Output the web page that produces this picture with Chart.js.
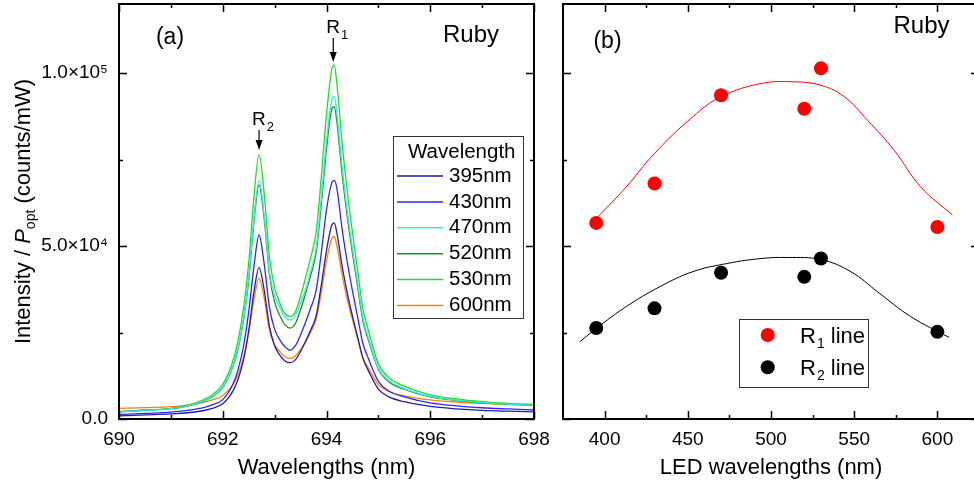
<!DOCTYPE html>
<html>
<head>
<meta charset="utf-8">
<script src="https://cdn.jsdelivr.net/npm/chart.js@4.4.0/dist/chart.umd.min.js"></script>
<style>
  html, body { margin: 0; padding: 0; background: #fff; overflow: hidden; }
  #wrap { position: relative; width: 974px; height: 485px; overflow: hidden; }
  #left { position: absolute; left: 0; top: 0; }
  #right { position: absolute; left: 545px; top: 0; }
</style>
</head>
<body>
<div id="wrap">
  <canvas id="left" width="560" height="485"></canvas>
  <canvas id="right" width="435" height="485"></canvas>
</div>
<script>
// ---- (a) spectra, intensity / P_opt vs wavelength ----
const wavelengths = [690, 690.5, 691, 691.5, 691.8, 692, 692.2, 692.3, 692.4, 692.5,
  692.6, 692.7, 692.8, 692.9, 693, 693.1, 693.2, 693.3, 693.4, 693.5,
  693.6, 693.7, 693.8, 693.9, 694, 694.1, 694.15, 694.2, 694.3, 694.4,
  694.5, 694.6, 694.7, 694.8, 695, 695.2, 695.5, 696, 696.5, 697, 697.5, 698];

const spec395 = [900, 1190, 1470, 2100, 3100, 4400, 8200, 11700, 17000, 25500,
  36600, 43800, 37200, 26800, 21200, 18500, 16800, 16300, 17100, 19500,
  22600, 25900, 29800, 38700, 48700, 56000, 56700, 53800, 44300, 36500,
  29800, 23700, 17600, 14200, 8650, 6400, 5000, 3650, 2950, 2500, 2250, 2050];
const spec430 = [1270, 1610, 1960, 2900, 4100, 5600, 10200, 14500, 21000, 30900,
  44000, 53200, 44700, 32300, 26000, 22900, 20900, 19900, 21200, 24300,
  28100, 32300, 37100, 48100, 60500, 68200, 69000, 66700, 55000, 45400,
  37100, 29500, 21900, 17800, 10900, 8100, 6400, 4650, 3800, 3250, 2900, 2600];
const spec470 = [2090, 2540, 2990, 4520, 6500, 9200, 15500, 20900, 29000, 40700,
  57800, 69000, 58700, 42500, 35500, 32400, 29500, 28600, 30000, 33500,
  37500, 43000, 49300, 63900, 80300, 92100, 93200, 88400, 73000, 60200,
  49300, 39300, 29300, 23800, 14700, 11100, 8800, 6550, 5450, 4750, 4300, 4000];
const spec520 = [2090, 2530, 2970, 4480, 6420, 9070, 15300, 20600, 28500, 40000,
  56800, 67700, 57700, 41800, 33800, 29900, 27200, 26300, 27600, 31600,
  36500, 41800, 48000, 62100, 78000, 89500, 90300, 86000, 71000, 58600,
  48000, 38200, 28500, 23200, 14400, 10800, 8600, 6400, 5350, 4650, 4200, 3950];
const spec530 = [2100, 2600, 3100, 4800, 7000, 10000, 17000, 23000, 32000, 45000,
  64000, 76500, 65000, 47000, 38000, 33500, 30500, 29600, 31000, 35500,
  41000, 47000, 54000, 70000, 88000, 101000, 102300, 97000, 80000, 66000,
  54000, 43000, 32000, 26000, 16000, 12000, 9500, 7000, 5800, 5000, 4500, 4200];
const spec600 = [3050, 3300, 3560, 4400, 5500, 6800, 10000, 13000, 17800, 24800,
  34400, 40700, 34900, 25800, 21500, 19500, 18000, 17500, 18200, 20100,
  22300, 25300, 28800, 36700, 45700, 52100, 52700, 50100, 41700, 34700,
  28800, 23300, 17900, 14900, 9950, 7950, 6700, 5500, 4900, 4500, 4250, 4250];

const ledLabels = ['395nm', '430nm', '470nm', '520nm', '530nm', '600nm'];
const specSeries = [spec395, spec430, spec470, spec520, spec530, spec600];
const ledColors = ['#1e1eb0', '#2b2bf0', '#30eaea', '#1f8f1f', '#22dd22', '#ff8000'];

const specTicksX = [690, 692, 694, 696, 698];
const specMinorX = [691, 693, 695, 697];
const intensityTicks = [0, 50000, 100000];
const intensityMinor = [25000, 75000];
const intensityLabels = ['0.0', '5.0×10⁴', '1.0×10⁵'];

// ---- (b) peak intensity vs LED wavelength ----
const ledWl = [395, 430, 470, 520, 530, 600];
const r1Peak = [56700, 68100, 93600, 89700, 101400, 55500];
const r2Peak = [26300, 32000, 42300, 41100, 46400, 25200];
const fitR1X = [395, 413, 430, 453, 470, 494, 514, 530, 544, 558, 574, 590, 609];
const fitR1Y = [58000, 67100, 76800, 87400, 93200, 97000, 97500, 96500, 93200, 86400, 77700, 67100, 59000];
const fitR2X = [385, 395, 413, 433, 453, 474, 494, 510, 530, 548, 564, 584, 607];
const fitR2Y = [22300, 26200, 32500, 38200, 42600, 45000, 46400, 46700, 46100, 42600, 36800, 29600, 23600];
const ledTicksX = [400, 450, 500, 550, 600];
const ledMinorX = [425, 475, 525, 575];

const FONT = '"Liberation Sans", Arial, sans-serif';

function xy(xs, ys) { return xs.map((x, i) => ({ x: x, y: ys[i] })); }

// box frame with inward ticks on all sides
function framePlugin(minorX, majorX, rightSide) {
  return {
    id: 'frame',
    afterDatasetsDraw(chart) {
      const { ctx, chartArea: a, scales } = chart;
      const sx = scales.x, sy = scales.y;
      ctx.save();
      ctx.strokeStyle = '#000';
      ctx.lineWidth = 2;
      ctx.beginPath();
      ctx.moveTo(a.left, a.top); ctx.lineTo(a.right, a.top);
      ctx.moveTo(a.left, a.top - 1); ctx.lineTo(a.left, a.bottom + 1);
      ctx.moveTo(a.left, a.bottom); ctx.lineTo(a.right, a.bottom);
      if (rightSide) { ctx.moveTo(a.right, a.top - 1); ctx.lineTo(a.right, a.bottom + 1); }
      ctx.stroke();
      ctx.lineWidth = 1.5;
      ctx.beginPath();
      const tx = (v, len) => {
        const p = Math.round(sx.getPixelForValue(v)) + 0.5;
        ctx.moveTo(p, a.bottom); ctx.lineTo(p, a.bottom - len);
        ctx.moveTo(p, a.top); ctx.lineTo(p, a.top + len);
      };
      const ty = (v, len) => {
        const p = Math.round(sy.getPixelForValue(v)) + 0.5;
        ctx.moveTo(a.left, p); ctx.lineTo(a.left + len, p);
        ctx.moveTo(a.right, p); ctx.lineTo(a.right - len, p);
      };
      majorX.forEach(v => tx(v, 8));
      minorX.forEach(v => tx(v, 4));
      intensityTicks.forEach(v => ty(v, 8));
      intensityMinor.forEach(v => ty(v, 4));
      ctx.stroke();
      ctx.restore();
    }
  };
}

function text(ctx, s, x, y, size, align, style) {
  ctx.font = (style || '') + ' ' + size + 'px ' + FONT;
  ctx.textAlign = align || 'left';
  ctx.fillText(s, x, y);
  return ctx.measureText(s).width;
}

function peakMark(ctx, px, top, tip, sub) {
  ctx.fillStyle = '#000';
  ctx.textBaseline = 'alphabetic';
  const w = text(ctx, 'R', px - 7, top - 6, 19);
  text(ctx, sub, px - 7 + w + 1, top, 13);
  ctx.strokeStyle = '#000';
  ctx.lineWidth = 1.2;
  ctx.beginPath();
  ctx.moveTo(px, top - 1); ctx.lineTo(px, tip - 8);
  ctx.stroke();
  ctx.beginPath();
  ctx.moveTo(px - 3.5, tip - 10); ctx.lineTo(px + 3.5, tip - 10); ctx.lineTo(px, tip);
  ctx.closePath();
  ctx.fill();
}

const leftDecor = {
  id: 'leftDecor',
  afterDraw(chart) {
    const { ctx, scales } = chart;
    ctx.save();
    ctx.fillStyle = '#000';
    ctx.textBaseline = 'middle';
    text(ctx, '(a)', 170, 38, 23, 'center');
    text(ctx, 'Ruby', 471, 35, 24, 'center');
    peakMark(ctx, scales.x.getPixelForValue(692.7), 131, 150, '2');
    peakMark(ctx, scales.x.getPixelForValue(694.13), 39, 62, '1');

    // legend
    ctx.fillStyle = '#fff';
    ctx.fillRect(393.5, 136.5, 130, 182);
    ctx.strokeStyle = '#333';
    ctx.lineWidth = 1;
    ctx.strokeRect(393.5, 136.5, 130, 182);
    ctx.fillStyle = '#000';
    ctx.textBaseline = 'middle';
    text(ctx, 'Wavelength', 408, 152, 20.5);
    ledLabels.forEach((lab, i) => {
      const y = 176 + i * 25.9;
      ctx.strokeStyle = ledColors[i];
      ctx.lineWidth = 1.5;
      ctx.beginPath(); ctx.moveTo(397, y); ctx.lineTo(443, y); ctx.stroke();
      ctx.fillStyle = '#000';
      text(ctx, lab, 449, y, 20.5);
    });

    // y title with italic P and subscript opt
    ctx.translate(22, 211.5);
    ctx.rotate(-Math.PI / 2);
    ctx.textBaseline = 'alphabetic';
    ctx.font = '22px ' + FONT;
    const p1 = 'Intensity / ', p4 = ' (counts/mW)';
    const w1 = ctx.measureText(p1).width, w4 = ctx.measureText(p4).width;
    ctx.font = 'italic 22px ' + FONT;
    const w2 = ctx.measureText('P').width;
    ctx.font = '14px ' + FONT;
    const w3 = ctx.measureText('opt').width;
    let x0 = -(w1 + w2 + w3 + w4) / 2;
    text(ctx, p1, x0, 8, 22); x0 += w1;
    text(ctx, 'P', x0, 8, 22, 'left', 'italic'); x0 += w2;
    text(ctx, 'opt', x0, 13, 14); x0 += w3;
    text(ctx, p4, x0, 8, 22);
    ctx.restore();
  }
};

const rightDecor = {
  id: 'rightDecor',
  afterDraw(chart) {
    const { ctx, data } = chart;
    ctx.save();
    ctx.fillStyle = '#000';
    ctx.textBaseline = 'middle';
    text(ctx, '(b)', 62.5, 42, 23, 'center');
    text(ctx, 'Ruby', 376.5, 26, 24, 'center');

    // legend
    const bx = 194.5, by = 319.5;
    ctx.fillStyle = '#fff';
    ctx.fillRect(bx, by, 129, 68);
    ctx.strokeStyle = '#333';
    ctx.lineWidth = 1;
    ctx.strokeRect(bx, by, 129, 68);
    [0, 1].forEach(i => {
      const ds = data.datasets[i];
      const y = 335 + i * 32.3;
      ctx.fillStyle = ds.backgroundColor;
      ctx.beginPath(); ctx.arc(222.7, y, 7, 0, Math.PI * 2); ctx.fill();
      ctx.fillStyle = '#000';
      ctx.textBaseline = 'alphabetic';
      const w = text(ctx, 'R', 255, y + 8, 22);
      const ws = text(ctx, String(i + 1), 255 + w + 1, y + 13, 14);
      text(ctx, ' line', 255 + w + 1 + ws, y + 8, 22);
    });
    ctx.restore();
  }
};

function xScale(min, max, major, title, titlePad) {
  return {
    type: 'linear', min: min, max: max,
    afterBuildTicks: s => { s.ticks = major.map(v => ({ value: v })); },
    afterFit: s => { s.height = 66; s.paddingLeft = 0; s.paddingRight = 0; },
    grid: { display: false, drawTicks: false },
    border: { display: false },
    ticks: { padding: 9, color: '#000', maxRotation: 0, font: { family: FONT, size: 19 },
      callback: v => String(v) },
    title: { display: true, text: title, color: '#000', font: { family: FONT, size: 22 },
      padding: { top: 0, bottom: titlePad } }
  };
}

function yScale(width, showLabels) {
  return {
    min: 0, max: 120000,
    afterBuildTicks: s => { s.ticks = intensityTicks.map(v => ({ value: v })); },
    afterFit: s => { s.width = width; s.paddingTop = 0; s.paddingBottom = 0; },
    grid: { display: false, drawTicks: false },
    border: { display: false },
    ticks: { display: showLabels, padding: 11, color: '#000', font: { family: FONT, size: 19 },
      callback: (v, i) => intensityLabels[i] }
  };
}

new Chart(document.getElementById('left'), {
  type: 'line',
  data: {
    datasets: specSeries.map((s, i) => ({
      label: ledLabels[i],
      data: xy(wavelengths, s),
      borderColor: ledColors[i],
      borderWidth: 1.3,
      pointRadius: 0,
      cubicInterpolationMode: 'monotone'
    }))
  },
  options: {
    responsive: false,
    animation: false,
    layout: { autoPadding: false, padding: { top: 4, right: 26, left: 0, bottom: 0 } },
    plugins: { legend: { display: false }, tooltip: { enabled: false } },
    scales: {
      x: xScale(690, 698, specTicksX, 'Wavelengths (nm)', 4),
      y: yScale(119, true)
    }
  },
  plugins: [framePlugin(specMinorX, specTicksX, true), leftDecor]
});

new Chart(document.getElementById('right'), {
  type: 'scatter',
  data: {
    datasets: [
      { label: 'R1 line', data: xy(ledWl, r1Peak), backgroundColor: '#ff0000', borderColor: '#ff0000',
        pointRadius: 7, pointBorderWidth: 0 },
      { label: 'R2 line', data: xy(ledWl, r2Peak), backgroundColor: '#000000', borderColor: '#000000',
        pointRadius: 7, pointBorderWidth: 0 },
      { label: 'R1 fit', data: xy(fitR1X, fitR1Y), showLine: true, borderColor: '#ff0000', borderWidth: 1,
        pointRadius: 0, tension: 0.4 },
      { label: 'R2 fit', data: xy(fitR2X, fitR2Y), showLine: true, borderColor: '#000000', borderWidth: 1,
        pointRadius: 0, tension: 0.4 }
    ]
  },
  options: {
    responsive: false,
    animation: false,
    layout: { autoPadding: false, padding: { top: 4, right: 1, left: 0, bottom: 0 } },
    plugins: { legend: { display: false }, tooltip: { enabled: false } },
    scales: {
      x: xScale(375, 625, ledTicksX, 'LED wavelengths (nm)', 4),
      y: yScale(18, false)
    }
  },
  plugins: [framePlugin(ledMinorX, ledTicksX, true), rightDecor]
});
</script>
</body>
</html>
